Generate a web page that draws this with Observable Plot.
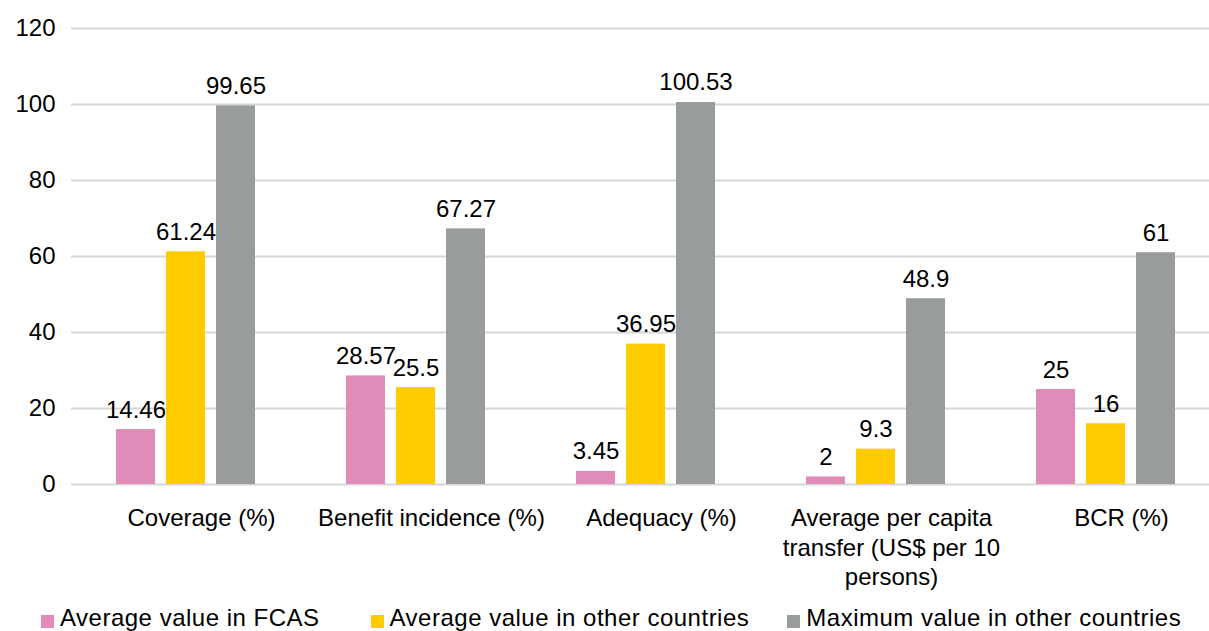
<!DOCTYPE html>
<html>
<head>
<meta charset="utf-8">
<script src="https://cdn.jsdelivr.net/npm/d3@7"></script>
<script src="https://cdn.jsdelivr.net/npm/@observablehq/plot@0.6"></script>
<style>
  html, body { margin: 0; padding: 0; background: #fff; overflow: hidden; width: 1209px; height: 631px; }
  #chart { position: relative; font-family: "Liberation Sans", Arial, Helvetica, sans-serif; color: #000; }
  #chart svg { max-width: none !important; }
  .legend { position: absolute; top: 604px; left: 41px; display: flex; font-size: 24px; line-height: 28px; white-space: nowrap; letter-spacing: 0.5px; }
  .legend .item { display: flex; align-items: flex-start; }
  .legend .item:nth-child(1) { margin-right: 51px; }
  .legend .item:nth-child(2) { margin-right: 38px; }
  .legend .sw { width: 13px; height: 13px; margin-top: 11px; margin-right: 6px; }
</style>
</head>
<body>
<div id="chart"></div>
<script>
// Indicator groups along the x axis
const categories = [
  "Coverage (%)",
  "Benefit incidence (%)",
  "Adequacy (%)",
  "Average per capita transfer (US$ per 10 persons)",
  "BCR (%)"
];
const categoryLabels = [
  "Coverage (%)",
  "Benefit incidence (%)",
  "Adequacy (%)",
  "Average per capita\ntransfer (US$ per 10\npersons)",
  "BCR (%)"
];

// Series and their colours
const series = [
  "Average value in FCAS",
  "Average value in other countries",
  "Maximum value in other countries"
];
const seriesColors = ["#e18bb9", "#ffcc00", "#999c9d"];

// Values per series, in category order
const fcasAverage = [14.46, 28.57, 3.45, 2, 25];
const otherAverage = [61.24, 25.5, 36.95, 9.3, 16];
const otherMaximum = [99.65, 67.27, 100.53, 48.9, 61];

const yTicks = [0, 20, 40, 60, 80, 100, 120];

const seriesValues = [fcasAverage, otherAverage, otherMaximum];
const data = [];
categories.forEach((category, i) => {
  series.forEach((s, j) => {
    data.push({category, series: s, value: seriesValues[j][i]});
  });
});

const labelOf = new Map(categories.map((c, i) => [c, categoryLabels[i]]));
const fontFamily = '"Liberation Sans", Arial, Helvetica, sans-serif';

const chart = Plot.plot({
  width: 1221,
  height: 592,
  marginLeft: 71,
  marginRight: 0,
  marginTop: 28,
  marginBottom: 108,
  style: {fontFamily, fontSize: "24px", color: "#000", background: "#fff", overflow: "visible", maxWidth: "none"},
  fx: {domain: categories, padding: 0, label: null},
  x: {domain: series, paddingInner: 0.216, paddingOuter: 0.863, axis: null},
  y: {domain: [0, 120], label: null},
  color: {domain: series, range: seriesColors},
  marks: [
    Plot.gridY(yTicks, {stroke: "#d6d6d6", strokeOpacity: 1, strokeWidth: 2}),
    Plot.barY(data, {fx: "category", x: "series", y: "value", fill: "series"}),
    Plot.text(data, {
      fx: "category", x: "series", y: "value",
      text: d => String(d.value),
      lineAnchor: "bottom", dy: -12, fontSize: 24, fill: "#000"
    }),
    Plot.axisY(yTicks, {tickSize: 0, tickPadding: 16, fontSize: 24, label: null}),
    Plot.axisFx({
      anchor: "bottom", tickSize: 0, tickPadding: 21, fontSize: 24,
      lineHeight: 1.22, dx: 15, label: null,
      tickFormat: c => labelOf.get(c)
    })
  ]
});

const root = document.getElementById("chart");
root.appendChild(chart);

// Legend row below the plot
const legend = document.createElement("div");
legend.className = "legend";
series.forEach((s, i) => {
  const item = document.createElement("div");
  item.className = "item";
  const sw = document.createElement("span");
  sw.className = "sw";
  sw.style.background = seriesColors[i];
  const label = document.createElement("span");
  label.textContent = s;
  item.appendChild(sw);
  item.appendChild(label);
  legend.appendChild(item);
});
root.appendChild(legend);
</script>
</body>
</html>
